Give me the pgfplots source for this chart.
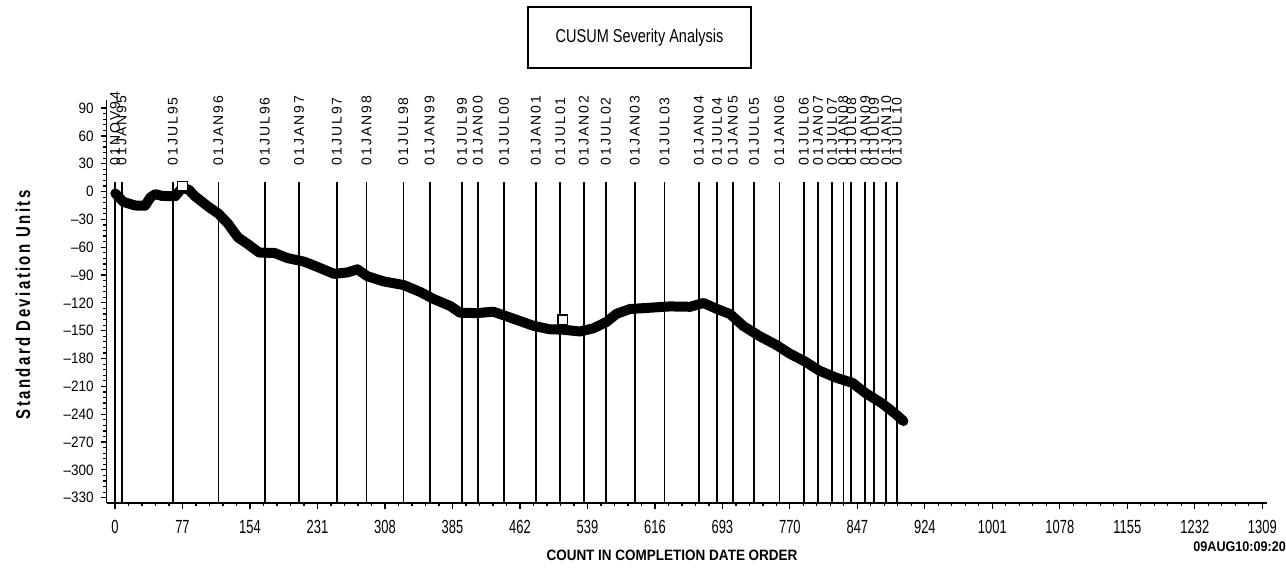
\documentclass[border=0pt]{standalone}
\usepackage{fontspec}
\setmainfont{Liberation Sans}
\usepackage{pgfplots}
\usepackage{pgfplotstable}
\pgfplotsset{compat=1.18}
\newfontfamily\datefont[LetterSpace=14]{Liberation Sans}
\newfontfamily\ytfont[FakeStretch=0.9]{Liberation Sans}
\newfontfamily\xtfont[FakeStretch=0.68]{Liberation Sans}
\newfontfamily\titlefont[FakeStretch=0.78]{Liberation Sans}
\newfontfamily\ylabfont[FakeStretch=0.75,LetterSpace=12]{Liberation Sans}
\newfontfamily\xlabfont[FakeStretch=0.9]{Liberation Sans}
\newfontfamily\stampfont[FakeStretch=0.9]{Liberation Sans}

\pgfplotstableread{
x y
0.4 -2.0
9.7 -11.2
23.0 -15.0
34.4 -15.2
40.3 -6.3
46.0 -2.7
53.6 -4.7
68.8 -5.0
76.6 3.9
84.1 2.0
91.6 -5.3
106.6 -16.4
117.9 -23.7
129.0 -34.7
140.2 -49.3
151.5 -56.6
164.6 -65.8
181.7 -66.1
196.8 -71.7
215.9 -75.6
230.9 -81.2
249.9 -88.7
265.0 -87.2
276.6 -83.8
287.8 -91.2
306.8 -96.9
329.5 -100.8
348.4 -108.3
363.5 -115.8
382.4 -123.3
393.7 -130.6
412.7 -131.0
431.7 -129.5
454.4 -137.0
477.1 -144.6
496.1 -148.5
510.0 -148.8
530.3 -150.8
545.5 -147.5
560.7 -140.6
572.3 -131.7
587.6 -126.6
610.5 -125.2
633.3 -123.8
656.1 -124.2
671.4 -120.1
686.5 -126.4
701.8 -132.1
716.8 -144.9
735.7 -156.0
754.4 -165.3
769.5 -174.5
788.4 -183.8
803.5 -193.0
822.4 -200.5
841.3 -206.2
856.3 -217.2
875.1 -228.3
890.0 -239.3
899.5 -247.4
}\cusum

\pgfplotstableread{
x y
77 5.7
511 -138.3
}\flags

\pgfplotstableread{
x y lab
0 28 01NOV94
7.6 28 01JAN95
66 28 01JUL95
118 28 01JAN96
171 28 01JUL96
210 28 01JAN97
253 28 01JUL97
287 28 01JAN98
329 28 01JUL98
359 28 01JAN99
396 28 01JUL99
414 28 01JAN00
444 28 01JUL00
480 28 01JAN01
508 28 01JUL01
535 28 01JAN02
560 28 01JUL02
593 28 01JAN03
627 28 01JUL03
666 28 01JAN04
687 28 01JUL04
705 28 01JAN05
729 28 01JUL05
758 28 01JAN06
786 28 01JUL06
802 28 01JAN07
818 28 01JUL07
831 28 01JAN08
840 28 01JUL08
856 28 01JAN09
866 28 01JUL09
880 28 01JAN10
892 28 01JUL10
}\dates

\begin{document}
\begin{tikzpicture}
\path[use as bounding box] (-53.35pt,-32.5pt) rectangle (589.65pt,251.5pt);
\begin{axis}[
  at={(0,0)}, anchor=south west,
  scale only axis, width=580pt, height=201.5pt,
  xmin=-9.47, xmax=1314, ymin=-335.7, ymax=98.7,
  axis x line*=bottom, axis y line*=left,
  axis line style={-, line width=0.75pt},
  clip=false,
  tick align=outside,
  major tick length=3pt, minor tick length=1.6pt,
  every tick/.style={black, line width=0.6pt},
  xtick={0,77,154,231,308,385,462,539,616,693,770,847,924,1001,1078,1155,1232,1309},
  xticklabels={0,77,154,231,308,385,462,539,616,693,770,847,924,1001,1078,1155,1232,1309},
  ytick={-330,-300,-270,-240,-210,-180,-150,-120,-90,-60,-30,0,30,60,90},
  yticklabels={\textendash330,\textendash300,\textendash270,\textendash240,\textendash210,\textendash180,\textendash150,\textendash120,\textendash90,\textendash60,\textendash30,0,30,60,90},
  minor x tick num=4, minor y tick num=4,
  xticklabel style={font=\xtfont\fontsize{9.5}{10}\selectfont, yshift=-2pt},
  yticklabel style={font=\ytfont\fontsize{7.5}{8}\selectfont},
]
\pgfplotsinvokeforeach{0,7.6,66,118,171,210,253,287,329,359,396,414,444,480,508,535,560,593,627,666,687,705,729,758,786,802,818,831,840,856,866,880,892}{
  \addplot[black, line width=0.85pt, forget plot] coordinates {(#1,10) (#1,-335.7)};
}
\addplot[black, line width=5pt, line join=round, line cap=round] table[x=x,y=y]{\cusum};
\addplot[only marks, mark=square*, mark size=2.4pt, mark options={fill=white, draw=black, line width=0.6pt}] table[x=x,y=y]{\flags};
\addplot[only marks, mark=none, nodes near coords, point meta=explicit symbolic,
  nodes near coords align={horizontal},
  nodes near coords style={rotate=90, anchor=west, inner sep=0pt, font=\datefont\fontsize{7}{7}\selectfont}]
  table[x=x,y=y,meta=lab]{\dates};
\end{axis}
\node[draw, line width=0.6pt, minimum width=111.5pt, minimum height=30.5pt, inner sep=0pt, font=\titlefont\fontsize{9.3}{10}\selectfont] at (266.4pt,232.75pt) {CUSUM Severity Analysis};
\node[rotate=90, font=\ylabfont\bfseries\fontsize{10}{10}\selectfont] at (-41.85pt,99pt) {Standard Deviation Units};
\node[font=\xlabfont\bfseries\fontsize{7.5}{8}\selectfont] at (282.65pt,-26pt) {COUNT IN COMPLETION DATE ORDER};
\node[anchor=west, inner sep=0pt, font=\stampfont\bfseries\fontsize{7}{7}\selectfont] at (543.15pt,-22pt) {09AUG10:09:20};
\end{tikzpicture}
\end{document}
